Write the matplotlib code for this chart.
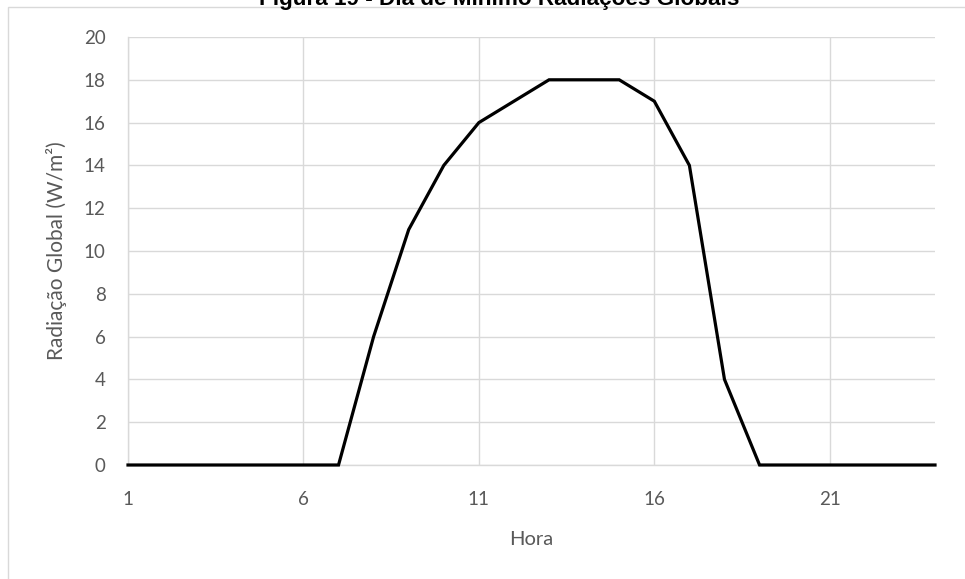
import matplotlib.pyplot as plt
from matplotlib.patches import Rectangle

hours = list(range(1, 25))
radiation = [0, 0, 0, 0, 0, 0, 0, 6, 11, 14, 16, 17, 18, 18, 18, 17, 14, 4, 0, 0, 0, 0, 0, 0]
x_ticks = [1, 6, 11, 16, 21]
y_ticks = list(range(0, 21, 2))

W, H = 965, 579
plt.rcParams["font.family"] = ["Lato", "DejaVu Sans"]
label_grey = "#595959"
grid_grey = "#d9d9d9"

fig = plt.figure(figsize=(W / 100, H / 100), dpi=100)

# chart-area frame (runs off the right and bottom edges)
fig.patches.append(Rectangle((8 / W, -0.1), 1.2, 1 - 7 / H + 0.1,
                             transform=fig.transFigure, fill=False,
                             edgecolor=grid_grey, linewidth=1.0, zorder=0))

ax = fig.add_axes([128 / W, 1 - 465 / H, (935 - 128) / W, (465 - 37) / H])
ax.plot(hours, radiation, color="black", linewidth=2.3, solid_joinstyle="miter",
        clip_on=False, zorder=3)

ax.set_xlim(1, 24)
ax.set_ylim(0, 20)
ax.set_xticks(x_ticks)
ax.set_yticks(y_ticks)
ax.grid(True, color=grid_grey, linewidth=1.0)
ax.set_axisbelow(True)
for side in ("top", "right"):
    ax.spines[side].set_visible(False)
for side in ("left", "bottom"):
    ax.spines[side].set_color(grid_grey)
    ax.spines[side].set_linewidth(1.0)
ax.tick_params(length=0, labelsize=13.5, labelcolor=label_grey)
ax.tick_params(axis="x", pad=19)
ax.tick_params(axis="y", pad=16)

ax.set_xlabel("Hora", fontsize=14.5, color=label_grey, labelpad=16)
ax.set_ylabel("Radiação Global (W/m²)", fontsize=15, color=label_grey, labelpad=12)

fig.text(499 / W, 1 - 5 / H, "Figura 19 - Dia de Mínimo Radiações Globais",
         ha="center", va="baseline", fontsize=16.2, fontweight="bold",
         family=["Liberation Sans", "DejaVu Sans"])

fig.savefig("out.png", dpi=100)
